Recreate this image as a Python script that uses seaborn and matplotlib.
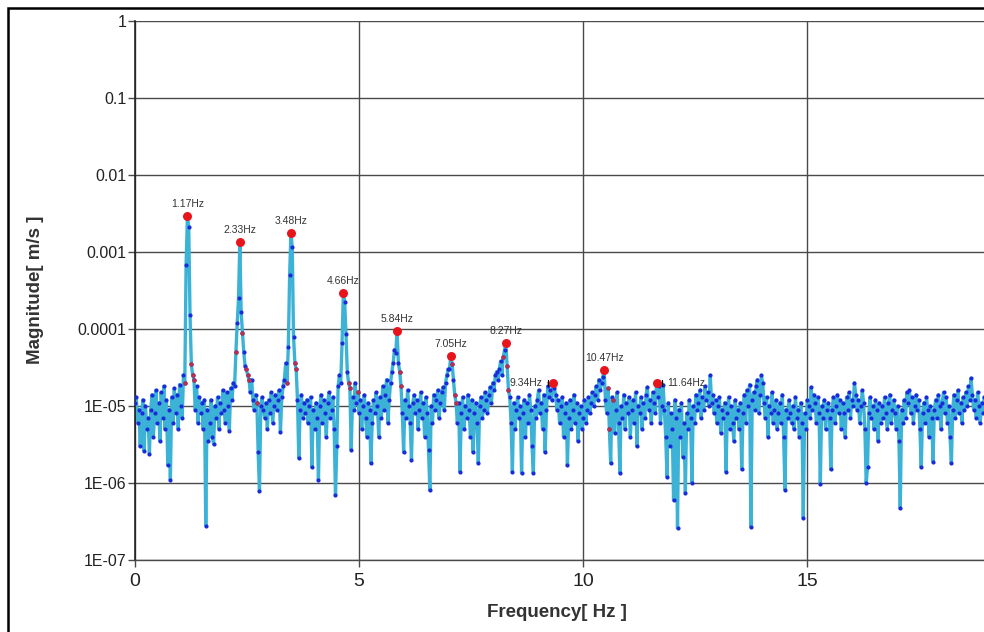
import numpy as np
import pandas as pd
import matplotlib
matplotlib.use("Agg")
import matplotlib.pyplot as plt
from matplotlib.patches import Rectangle, ArrowStyle
import seaborn as sns

# ---------------- data ----------------
freq_step_hz = 0.02925  # FFT bin spacing
# spectrum magnitude, in micro-m/s (x 1e-6 m/s), one value per FFT bin
magnitude_um = [
    11, 13, 6, 9, 3.0, 8, 12, 2.6, 10, 5,
    7, 2.4, 9, 14, 4, 8, 16, 6, 11, 3.5,
    15, 7, 18, 5, 12, 1.7, 9, 1.1, 13, 6,
    17, 8, 14, 5, 19, 10, 7, 25, 20, 680,
    2900, 2100, 150, 35, 25, 22, 9, 18, 6, 13,
    8, 11, 5, 12, 0.28, 9, 3.5, 6, 12, 4,
    3.2, 10, 7, 13, 5, 11, 8, 16, 9, 6,
    15, 10, 4.8, 17, 12, 20, 18, 50, 120, 250,
    1350, 166, 90, 50, 33, 30, 25, 22, 15, 22,
    12, 9, 14, 11, 2.5, 0.78, 10, 13, 9, 7,
    11, 5, 12, 8, 15, 6, 10, 14, 9, 12,
    16, 4.6, 13, 18, 22, 36, 20, 59, 500, 1770,
    1150, 79, 36, 30, 12, 2.1, 9, 14, 7, 11,
    8, 12, 6, 10, 13, 1.6, 9, 5, 11, 7,
    1.1, 10, 14, 6, 12, 8, 4, 11, 15, 7,
    9, 13, 5, 0.7, 3, 18, 25, 20, 66, 295,
    225, 87, 28, 20, 17, 2.7, 13, 9, 20, 11,
    15, 8, 12, 5, 10, 14, 7, 4, 11, 9,
    1.8, 6, 12, 8, 15, 10, 4, 13, 7, 18,
    9, 14, 22, 6, 12, 20, 28, 36, 54, 49,
    94, 36, 28, 18, 8, 2.5, 12, 7, 16, 10,
    6, 2.0, 11, 14, 8, 12, 5, 9, 15, 7,
    11, 4, 13, 8, 2.7, 0.8, 10, 6, 14, 9,
    12, 16, 7, 11, 15, 17.5, 9, 20, 25, 30,
    30, 45, 35, 22, 14, 11, 6, 11, 1.4, 8,
    13, 5, 10, 7, 14, 9, 4, 12, 2.5, 8,
    11, 6, 1.8, 10, 13, 7, 9, 15, 12, 8,
    14, 17.5, 11, 20, 16, 25, 28, 22, 30, 38,
    25, 43, 53, 66, 33, 16, 13, 6, 1.4, 11,
    5, 9, 13, 7, 10, 1.35, 8, 12, 4, 11,
    6, 14, 9, 3, 1.35, 10, 7, 12, 16, 8,
    11, 5, 14, 2.5, 9, 18, 13, 16, 12, 20,
    17, 14, 9, 12, 6, 10, 13, 4, 8, 11,
    1.7, 7, 12, 5, 9, 14, 6, 11, 3.5, 8,
    10, 5, 7, 12, 6, 9, 13, 8, 11, 15,
    10, 14, 18, 12, 22, 16, 20, 24, 29, 12,
    8, 17, 5, 1.8, 13, 12, 4.5, 9, 15, 6,
    1.35, 10, 7, 14, 5, 11, 8, 13, 4, 9,
    12, 6, 15, 3, 10, 8, 13, 5, 11, 7,
    14, 17.5, 9, 12, 6, 15, 11, 8, 20, 13,
    18, 6, 10, 19, 9, 4, 1.2, 11, 3, 8,
    5, 0.6, 12, 7, 0.26, 9, 4, 11, 2.2, 6,
    0.75, 8, 5, 12, 7, 1.0, 10, 6, 14, 9,
    11, 16, 7, 13, 9, 18, 12, 15, 10, 25,
    11, 14, 8, 12, 6, 10, 13, 4.5, 9, 7,
    11, 1.4, 8, 13, 5, 10, 6, 3.5, 12, 7,
    9, 5, 11, 1.5, 8, 14, 6, 16, 10, 19,
    0.27, 12, 15, 9, 18, 22, 8, 14, 25, 20,
    11, 7, 13, 4, 10, 8, 15, 6, 9, 12,
    5, 8, 11, 6, 14, 4, 0.82, 9, 7, 12,
    8, 6, 10, 5, 13, 7, 9, 4, 11, 6,
    0.35, 8, 5, 12, 10, 7, 17.5, 9, 14, 11,
    6, 13, 8, 0.96, 10, 7, 12, 5, 9, 11,
    7, 1.5, 9, 13, 6, 10, 14, 8, 12, 5,
    11, 8, 4, 13, 9, 15, 7, 12, 10, 20,
    14, 9, 12, 6, 10, 16, 11, 5, 1.0, 1.6,
    8, 13, 7, 10, 5, 12, 9, 3.5, 11, 6,
    10, 7, 13, 8, 5, 11, 14, 6, 9, 12,
    8, 5, 10, 3.5, 0.47, 9, 6, 12, 7, 15,
    11, 16, 8, 13, 6, 10, 14, 9, 12, 5,
    1.6, 8, 11, 6, 13, 9, 4, 10, 7, 1.9,
    9, 12, 7, 14, 10, 5, 11, 15, 8, 13,
    6, 10, 4, 1.8, 9, 14, 7, 12, 16, 8,
    11, 6, 13, 9, 15, 10, 18, 12, 23, 14,
    9, 12, 7, 15, 10, 6, 11, 8, 13,
]
# bins drawn as small dark-red dots (sidebands of the harmonics)
sideband_bins = [38, 43, 44, 45, 77, 82, 85, 86, 87, 93, 116, 122, 123, 163, 164,
                 170, 202, 203, 242, 244, 245, 281, 284, 285, 361, 362, 365]
# labelled peaks
peak_labels = ["1.17Hz", "2.33Hz", "3.48Hz", "4.66Hz", "5.84Hz", "7.05Hz",
               "8.27Hz", "9.34Hz", "10.47Hz", "11.64Hz"]
peak_bins = [40, 80, 119, 159, 200, 241, 283, 319, 358, 398]

y_ticks = [1e-7, 1e-6, 1e-5, 1e-4, 1e-3, 1e-2, 1e-1, 1]
y_tick_labels = ["1E-07", "1E-06", "1E-05", "0.0001", "0.001", "0.01", "0.1", "1"]
x_ticks = [0, 5, 10, 15]
x_tick_labels = ["0", "5", "10", "15"]

# ---------------- frame ----------------
mag = np.array(magnitude_um) * 1e-6
freq = np.arange(len(mag)) * freq_step_hz
df = pd.DataFrame({"freq": freq, "mag": mag})
side = df.iloc[sideband_bins]
peaks = df.iloc[peak_bins].copy()
peaks["label"] = peak_labels

sns.set_theme(style="white")
plt.rcParams["font.family"] = ["Liberation Sans", "DejaVu Sans"]

fig = plt.figure(figsize=(9.84, 6.32), dpi=100)
ax = fig.add_axes([135 / 984, 1 - 560 / 632, 1 - 135 / 984, (560 - 21) / 632])

sns.lineplot(data=df, x="freq", y="mag", ax=ax, color="#3cb2d6", lw=2.4,
             estimator=None, sort=False, zorder=2)
sns.scatterplot(data=df, x="freq", y="mag", ax=ax, color="#1a2bdc", s=9,
                linewidth=0, zorder=3)
sns.scatterplot(data=side, x="freq", y="mag", ax=ax, color="#b8304a", s=10,
                linewidth=0, zorder=4)
sns.scatterplot(data=peaks, x="freq", y="mag", ax=ax, color="#e8141c", s=42,
                linewidth=0, zorder=5)

leader = ArrowStyle("|-|", widthA=0.3, widthB=0.0)
for _, r in peaks.iterrows():
    if r["label"] == "9.34Hz":
        ax.annotate(r["label"], (r["freq"], r["mag"]), xytext=(-8, 0),
                    textcoords="offset points", ha="right", va="center",
                    fontsize=7.5, color="#333333",
                    arrowprops=dict(arrowstyle=leader, color="black", lw=0.9,
                                    shrinkA=2, shrinkB=3))
    elif r["label"] == "11.64Hz":
        ax.annotate(r["label"], (r["freq"], r["mag"]), xytext=(8, 0),
                    textcoords="offset points", ha="left", va="center",
                    fontsize=7.5, color="#333333",
                    arrowprops=dict(arrowstyle=leader, color="black", lw=0.9,
                                    shrinkA=2, shrinkB=3))
    else:
        ax.annotate(r["label"], (r["freq"], r["mag"]), xytext=(0, 5),
                    textcoords="offset points", ha="center", va="bottom",
                    fontsize=7.5, color="#333333")

ax.set_yscale("log")
ax.set_ylim(1e-7, 1)
ax.set_xlim(0, (984 - 135) / 44.8)
ax.set_yticks(y_ticks)
ax.set_yticklabels(y_tick_labels)
ax.set_xticks(x_ticks)
ax.set_xticklabels(x_tick_labels)
ax.yaxis.set_minor_locator(matplotlib.ticker.NullLocator())

ax.grid(True, which="major", color="#4a4a4a", lw=1.0)
ax.set_axisbelow(True)
for s in ["top", "right"]:
    ax.spines[s].set_visible(False)
ax.spines["left"].set_color("#222222")
ax.spines["left"].set_linewidth(1.2)
ax.spines["bottom"].set_color("#4a4a4a")
ax.spines["bottom"].set_linewidth(1.0)
ax.tick_params(axis="both", which="major", direction="out", length=5, width=1,
               color="#4a4a4a", left=True, bottom=True)
ax.tick_params(axis="y", labelsize=11.5, labelcolor="#222222", pad=1)
ax.tick_params(axis="x", labelsize=14, labelcolor="#222222", pad=4)

ax.set_xlabel("Frequency[ Hz ]", fontsize=13.5, fontweight="bold", color="#333333")
ax.set_ylabel("Magnitude[ m/s ]", fontsize=13.5, fontweight="bold", color="#333333")
ax.xaxis.set_label_coords((557 - 135) / 849, -(604 - 560) / 539)
ax.yaxis.set_label_coords(-(135 - 44) / 849, (560 - 290) / 539)

fig.patches.append(Rectangle((8 / 984, -0.2), 1.2, 1.2 - 8 / 632,
                             transform=fig.transFigure, fill=False,
                             edgecolor="black", lw=1.8, zorder=10))

fig.savefig("out.png", dpi=100)
